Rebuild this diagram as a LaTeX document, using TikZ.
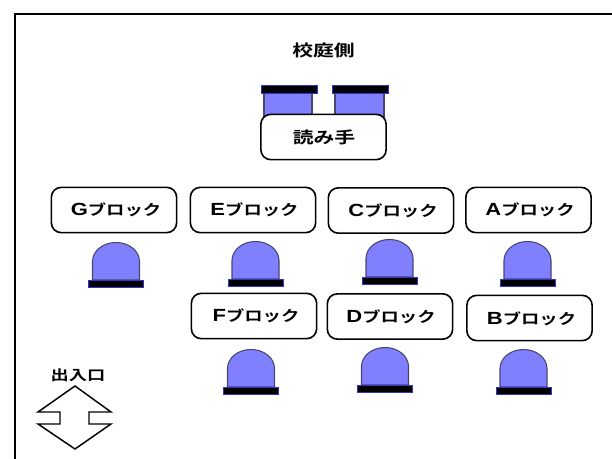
\documentclass[tikz,border=0pt]{standalone}
\usepackage{graphicx}
\usepackage{fontspec}
\setmainfont{Noto Sans CJK JP}[BoldFont={Noto Sans CJK JP Bold}]
\newfontfamily\latinb[Scale=1.2]{Liberation Sans Bold}
\definecolor{seatblue}{RGB}{128,128,255}
\definecolor{seatedge}{RGB}{70,70,110}
\definecolor{baredge}{RGB}{50,50,200}
\tikzset{x=0.75pt,y=-0.75pt,
 blockbox/.style={draw=black,line width=1.2pt,rounded corners=7.5pt,fill=white,minimum width=94pt,minimum height=34pt,inner sep=0pt},
 lab/.style={inner sep=0pt,font=\bfseries\fontsize{11}{13}\selectfont},
 caption/.style={inner sep=0pt,font=\bfseries\fontsize{12}{14}\selectfont},
 seatbody/.style={draw=seatedge,fill=seatblue,line width=0.8pt},
 seatbar/.style={draw=baredge,fill=black,line width=0.6pt}}
\newcommand{\wide}[1]{\scalebox{1.25}[1]{#1}}
\newcommand{\widecap}[1]{\scalebox{1.3}[1]{#1}}
\newcommand{\seatmark}[2]{% center x, bar top y
 \path[seatbody] (#1-23.5,#2) -- (#1-23.5,#2-18.5) arc[start angle=180,end angle=0,x radius=17.625pt,y radius=14.25pt] -- (#1+23.5,#2) -- cycle;
 \path[seatbar] (#1-27.5,#2) rectangle (#1+27.5,#2+7.5);}
\begin{document}
\begin{tikzpicture}
\useasboundingbox (0,0) rectangle (612,459);
\draw[line width=1.5pt] (14.5,470) -- (14.5,14.5) -- (620,14.5);
\clip (0,0) rectangle (612,459);
\node[caption] (title) at (323.5,50) {\widecap{校庭側}};
\path[seatbody] (264,118) rectangle (312,92);
\path[seatbody] (335,118) rectangle (384,92);
\path[seatbar] (261,85) rectangle (317,93);
\path[seatbar] (332,85) rectangle (388,93);
\node[blockbox] (reader) at (323.5,137) {};
\node[caption] (readerlab) at (324,137) {\widecap{読み手}};
\node[blockbox] (g) at (114,210) {};
\node[lab] (gl) at (116,210) {\wide{{\latinb G}ブロック}};
\node[blockbox] (e) at (253,210) {};
\node[lab] (el) at (254.5,210) {\wide{{\latinb E}ブロック}};
\node[blockbox] (c) at (391,210.5) {};
\node[lab] (cl) at (393,211) {\wide{{\latinb C}ブロック}};
\node[blockbox] (a) at (528.5,210) {};
\node[lab] (al) at (530,210) {\wide{{\latinb A}ブロック}};
\node[blockbox] (f) at (254,316) {};
\node[lab] (fl) at (256,316) {\wide{{\latinb F}ブロック}};
\node[blockbox] (d) at (390,316.5) {};
\node[lab] (dl) at (391,317) {\wide{{\latinb D}ブロック}};
\node[blockbox] (b) at (529.5,318) {};
\node[lab] (bl) at (531.5,319) {\wide{{\latinb B}ブロック}};
\seatmark{116}{280}
\seatmark{255.5}{279}
\seatmark{389.5}{277}
\seatmark{527.5}{279}
\seatmark{251}{387}
\seatmark{385}{385}
\seatmark{523.5}{387}
\node[inner sep=0pt,font=\bfseries\fontsize{10.5}{12}\selectfont] (door) at (78,375) {\widecap{出入口}};
\draw[line width=1.1pt,fill=white] (75,386) -- (111,412) -- (89,412) -- (89,424) -- (111,424) -- (75,449) -- (38,424) -- (60,424) -- (60,412) -- (38,412) -- cycle;
\end{tikzpicture}
\end{document}
